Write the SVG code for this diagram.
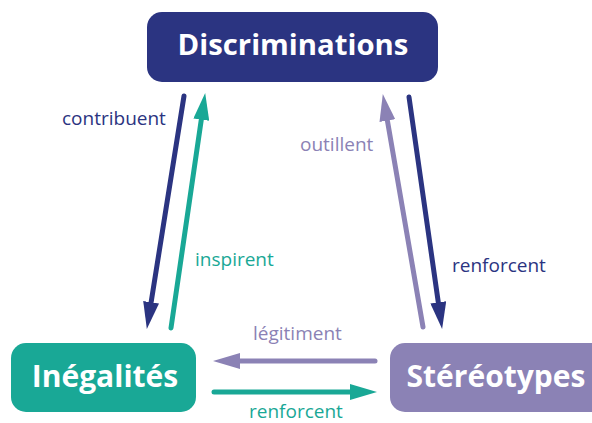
<svg xmlns="http://www.w3.org/2000/svg" width="592" height="423" viewBox="0 0 592 423">
<style>
.node-label{font-family:"Open Sans","Noto Sans","Liberation Sans",sans-serif;font-weight:700;font-size:30px;fill:#fff;text-anchor:middle}
.lbl{font-family:"Open Sans","Noto Sans","Liberation Sans",sans-serif;font-size:19px}
.blue{stroke:#2B3481}
.teal{stroke:#19A896}
.purple{stroke:#8B82B5}
.conn line{stroke-width:5;stroke-linecap:round;fill:none}
</style>
<defs>
<marker id="hBlue" markerUnits="userSpaceOnUse" viewBox="0 0 27 16" markerWidth="27" markerHeight="16" refX="0" refY="8" orient="auto"><path d="M0,0 L27,8 L0,16 Z" fill="#2B3481"/></marker>
<marker id="hTeal" markerUnits="userSpaceOnUse" viewBox="0 0 27 16" markerWidth="27" markerHeight="16" refX="0" refY="8" orient="auto"><path d="M0,0 L27,8 L0,16 Z" fill="#19A896"/></marker>
<marker id="hPurple" markerUnits="userSpaceOnUse" viewBox="0 0 27 16" markerWidth="27" markerHeight="16" refX="0" refY="8" orient="auto"><path d="M0,0 L27,8 L0,16 Z" fill="#8B82B5"/></marker>
</defs>
<rect width="592" height="423" fill="#fff"/>
<g id="connectors" class="conn">
<line class="blue" x1="184" y1="96" x2="151.1" y2="302.3" marker-end="url(#hBlue)"/>
<line class="teal" x1="171" y1="328" x2="201.3" y2="119.7" marker-end="url(#hTeal)"/>
<line class="purple" x1="423" y1="327" x2="387.4" y2="120.6" marker-end="url(#hPurple)"/>
<line class="blue" x1="409" y1="97" x2="438.3" y2="302.3" marker-end="url(#hBlue)"/>
<line class="purple" x1="375" y1="361" x2="240" y2="361" marker-end="url(#hPurple)"/>
<line class="teal" x1="214" y1="392" x2="350" y2="392" marker-end="url(#hTeal)"/>
</g>
<g id="edge-labels">
<text class="lbl" x="62" y="125" fill="#2B3481">contribuent</text>
<text class="lbl" x="195" y="266" fill="#19A896">inspirent</text>
<text class="lbl" x="300" y="151" fill="#8B82B5">outillent</text>
<text class="lbl" x="452" y="272" fill="#2B3481">renforcent</text>
<text class="lbl" x="253" y="340" fill="#8B82B5">légitiment</text>
<text class="lbl" x="249" y="418" fill="#19A896">renforcent</text>
</g>
<g id="node-discriminations">
<rect x="147" y="12" width="291" height="70" rx="15" fill="#2B3481"/>
<text class="node-label" x="293" y="55" style="font-size:29.3px">Discriminations</text>
</g>
<g id="node-inegalites">
<rect x="11" y="343" width="185" height="69" rx="15" fill="#19A896"/>
<text class="node-label" x="105" y="387">Inégalités</text>
</g>
<g id="node-stereotypes">
<rect x="390" y="343" width="220" height="69" rx="15" fill="#8B82B5"/>
<text class="node-label" x="496" y="387">Stéréotypes</text>
</g>
</svg>
